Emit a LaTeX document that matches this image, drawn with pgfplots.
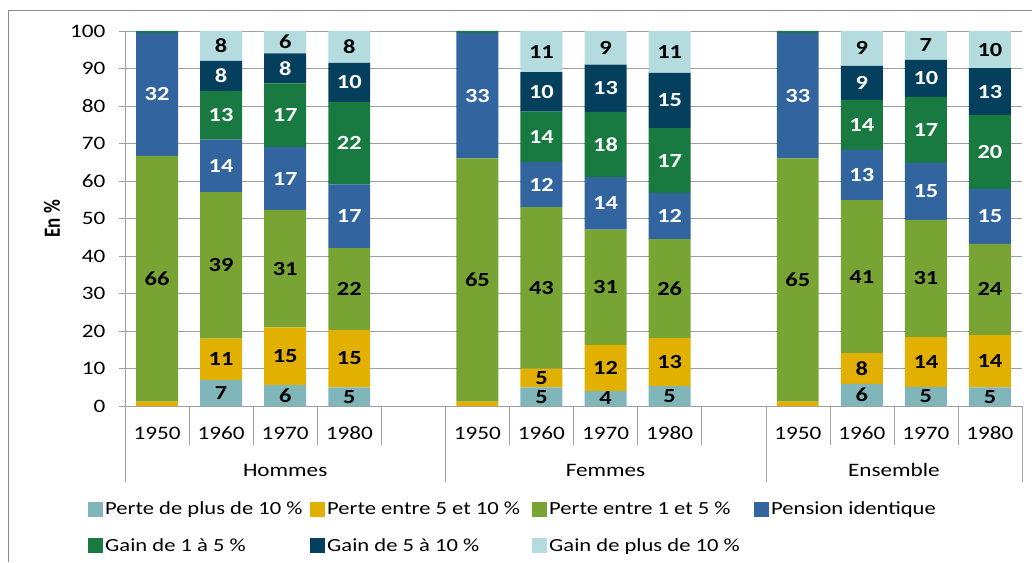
\documentclass[border=0pt]{standalone}
\usepackage{fontspec}
\setmainfont{Carlito}
\usepackage{graphicx}
\usepackage{pgfplots}
\usepackage{pgfplotstable}
\pgfplotsset{compat=1.18}
\definecolor{cA}{RGB}{128,182,186}
\definecolor{cB}{RGB}{225,176,0}
\definecolor{cC}{RGB}{119,164,51}
\definecolor{cD}{RGB}{50,100,160}
\definecolor{cE}{RGB}{24,122,64}
\definecolor{cF}{RGB}{5,63,94}
\definecolor{cG}{RGB}{180,220,222}
\definecolor{gridgray}{RGB}{160,160,160}
\definecolor{bordergray}{RGB}{140,140,140}
\newcommand\hs[1]{\scalebox{1.22}[1]{#1}}
\newcommand\legent[1]{\makebox[203pt][l]{\hs{#1}}}
\newcommand\tf{\fontsize{19}{22}\selectfont}
\newcommand\gf{\fontsize{18.5}{22}\selectfont}
\newcommand\lf{\fontsize{20}{23}\selectfont\bfseries}
\pgfplotstableread{
x a b c d e f g la lb lc ld le lf lg
0 0 1.2 65.5 32.8 0.5 0 0 {} {} 66 32 {} {} {}
1 7 11 39 14 13 8 8 7 11 39 14 13 8 8
2 5.6 15.4 31.3 16.7 17 8 6 6 15 31 17 17 8 6
3 5 15.3 21.8 17 22 10.4 8.5 5 15 22 17 22 10 8
5 0 1.2 64.8 33.5 0.5 0 0 {} {} 65 33 {} {} {}
6 5 5 43 12 13.5 10.5 11 5 5 43 12 14 10 11
7 4 12.3 30.7 14 17.4 12.6 9 4 12 31 14 18 13 9
8 5.3 12.8 26.4 12.3 17.3 14.7 11.2 5 13 26 12 17 15 11
10 0 1.2 64.8 33.5 0.5 0 0 {} {} 65 33 {} {} {}
11 5.9 8.2 40.8 13.4 13.3 9.1 9.3 6 8 41 13 14 9 9
12 5.1 13.3 31.2 15.2 17.6 9.9 7.7 5 14 31 15 17 10 7
13 5 14 24.2 14.7 19.7 12.5 9.9 5 14 24 15 20 13 10
}\data
\pgfplotsset{
  sq/.style={legend image code/.code={\fill[##1,draw=none] (0pt,-7.5pt) rectangle (15pt,7.5pt);}},
  common/.style={at={(125pt,156pt)}, anchor=south west, width=897pt, height=375pt,
    scale only axis, xmin=-0.5, xmax=13.5, ymin=0, ymax=100, clip=false},
  lbl/.style={only marks, mark=text, text mark={}, nodes near coords,
    point meta=explicit symbolic,
    nodes near coords={\hs{\pgfplotspointmeta}},
    every node near coord/.append style={anchor=center, font=\lf, text=#1}},
}
\begin{document}
\begin{tikzpicture}
\useasboundingbox (0pt,0pt) rectangle (1032pt,562pt);
\draw[bordergray] (8pt,0pt) -- (8pt,552pt) -- (1032pt,552pt);
\begin{axis}[common,
  ybar stacked, bar width=0.655,
  axis x line*=bottom, axis y line*=left,
  axis line style={draw=gridgray},
  ymajorgrids, grid style={gridgray},
  ytick={0,10,...,100},
  /pgf/number format/assume math mode=true,
  yticklabel={\hs{\pgfmathprintnumber{\tick}}},
  tick align=outside, major tick length=6pt,
  ytick style={draw=gridgray},
  xtick={0,1,2,3,5,6,7,8,10,11,12,13},
  xticklabels={\hs{1950},\hs{1960},\hs{1970},\hs{1980},\hs{1950},\hs{1960},\hs{1970},\hs{1980},\hs{1950},\hs{1960},\hs{1970},\hs{1980}},
  xtick style={draw=none},
  tick label style={font=\tf},
  yticklabel style={xshift=-10pt},
  xticklabel style={anchor=center, yshift=-21pt},
  ylabel={\scalebox{1}[1.22]{\bfseries En \%}},
  ylabel style={font=\tf, at={(axis description cs:-0.0814,0.5)}, anchor=center},
  legend columns=4,
  legend cell align=left,
  legend style={draw=none, font=\gf, at={(axis description cs:-0.0412,-0.25)}, anchor=north west,
    inner sep=0pt, /tikz/row sep=18pt,
    /tikz/every even column/.append style={column sep=0pt}},
]
\addplot[fill=cA, draw=none, sq] table[x=x, y=a]{\data};
\addlegendentry{\legent{Perte de plus de 10 \%}}
\addplot[fill=cB, draw=none, sq] table[x=x, y=b]{\data};
\addlegendentry{\legent{Perte entre 5 et 10 \%}}
\addplot[fill=cC, draw=none, sq] table[x=x, y=c]{\data};
\addlegendentry{\legent{Perte entre 1 et 5 \%}}
\addplot[fill=cD, draw=none, sq] table[x=x, y=d]{\data};
\addlegendentry{\legent{Pension identique}}
\addplot[fill=cE, draw=none, sq] table[x=x, y=e]{\data};
\addlegendentry{\legent{Gain de 1 à 5 \%}}
\addplot[fill=cF, draw=none, sq] table[x=x, y=f]{\data};
\addlegendentry{\legent{Gain de 5 à 10 \%}}
\addplot[fill=cG, draw=none, sq] table[x=x, y=g]{\data};
\addlegendentry{\legent{Gain de plus de 10 \%}}
\pgfplotsinvokeforeach{0.5,1.5,2.5,3.5,5.5,6.5,7.5,8.5,10.5,11.5,12.5}{
  \draw[gridgray] (axis cs:#1,0) -- ++(0pt,-39pt);}
\pgfplotsinvokeforeach{-0.5,4.5,9.5,13.5}{
  \draw[gridgray] (axis cs:#1,0) -- ++(0pt,-76pt);}
\node[font=\tf] at (axis cs:2,0) [yshift=-64pt] {\hs{Hommes}};
\node[font=\tf] at (axis cs:7,0) [yshift=-64pt] {\hs{Femmes}};
\node[font=\tf] at (axis cs:11.5,0) [yshift=-64pt] {\hs{Ensemble}};
\end{axis}
\begin{axis}[common, hide axis]
\addplot[lbl=black] table[x=x, y expr=\thisrow{a}/2, meta=la]{\data};
\addplot[lbl=black] table[x=x, y expr=\thisrow{a}+\thisrow{b}/2, meta=lb]{\data};
\addplot[lbl=black] table[x=x, y expr=\thisrow{a}+\thisrow{b}+\thisrow{c}/2, meta=lc]{\data};
\addplot[lbl=white] table[x=x, y expr=\thisrow{a}+\thisrow{b}+\thisrow{c}+\thisrow{d}/2, meta=ld]{\data};
\addplot[lbl=white] table[x=x, y expr=\thisrow{a}+\thisrow{b}+\thisrow{c}+\thisrow{d}+\thisrow{e}/2, meta=le]{\data};
\addplot[lbl=white] table[x=x, y expr=\thisrow{a}+\thisrow{b}+\thisrow{c}+\thisrow{d}+\thisrow{e}+\thisrow{f}/2, meta=lf]{\data};
\addplot[lbl=black] table[x=x, y expr=\thisrow{a}+\thisrow{b}+\thisrow{c}+\thisrow{d}+\thisrow{e}+\thisrow{f}+\thisrow{g}/2, meta=lg]{\data};
\end{axis}
\end{tikzpicture}
\end{document}
